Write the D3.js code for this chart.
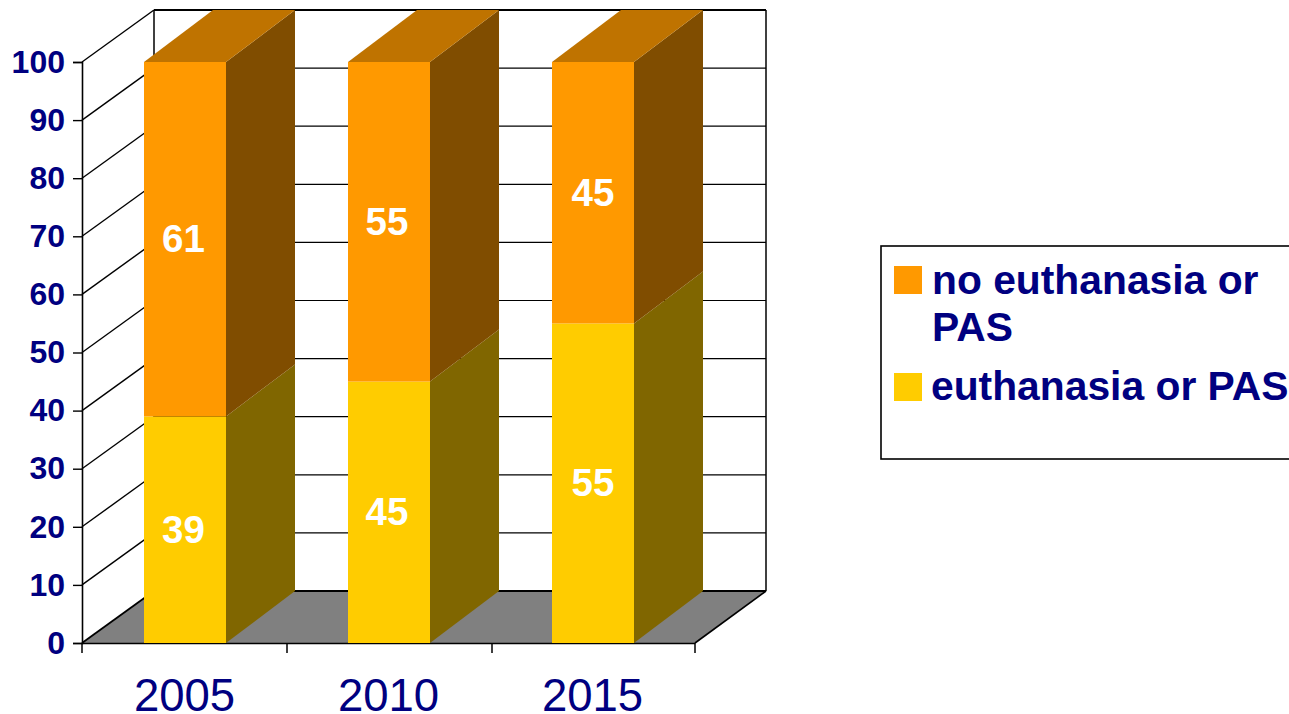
<!DOCTYPE html>
<html><head><meta charset="utf-8">
<script src="https://cdnjs.cloudflare.com/ajax/libs/d3/7.8.5/d3.min.js"></script>
<style>html,body{margin:0;padding:0;background:#fff;overflow:hidden}svg{display:block}text{font-family:"Liberation Sans",Arial,sans-serif}</style>
</head><body><script>
const years = ["2005","2010","2015"];
const euthanasia = [39,45,55];
const noEuthanasia = [61,55,45];
const yTicks = [0,10,20,30,40,50,60,70,80,90,100];
const legendLines = [["no euthanasia or","PAS"],["euthanasia or PAS"]];
const navy="#000080";
const W=1289,H=714;
const dx=72,dy=-52,bdx=69,bdy=-52;
const svg=d3.select("body").append("svg").attr("width",W).attr("height",H);
const y=d3.scaleLinear().domain([0,100]).range([643,62]);
const x=d3.scaleBand().domain(years).range([82.5,694.5]);
const tickX=d3.scaleBand().domain(years).range([82,697]);
const x0=82,x1=695;
const pts=a=>a.map(p=>p.join(",")).join(" ");
// floor
svg.append("polygon").attr("points",pts([[x0,y(0)],[x1,y(0)],[x1+dx-1,y(0)+dy],[x0+dx,y(0)+dy]])).attr("fill","#808080");
// grid
const grid=svg.append("g").attr("stroke","#000").attr("fill","none");
yTicks.forEach(t=>{
  if(t>0){
    grid.append("line").attr("x1",x0).attr("y1",y(t)).attr("x2",x0+dx).attr("y2",y(t)+dy).attr("stroke-width",1.4);
    grid.append("line").attr("x1",x0+dx).attr("y1",y(t)+dy).attr("x2",x1+dx-1).attr("y2",y(t)+dy).attr("stroke-width",t==100?1.8:1.2);
  }
});
grid.append("line").attr("x1",x0+dx).attr("y1",y(100)+dy).attr("x2",x0+dx).attr("y2",y(0)+dy).attr("stroke-width",1.5);
grid.append("line").attr("x1",x1+dx-1).attr("y1",y(100)+dy).attr("x2",x1+dx-1).attr("y2",y(0)+dy).attr("stroke-width",1.5);
grid.append("line").attr("x1",x0+dx).attr("y1",y(0)+dy).attr("x2",x1+dx-1).attr("y2",y(0)+dy).attr("stroke-width",2);
grid.append("line").attr("x1",x0).attr("y1",y(0)).attr("x2",x0+dx).attr("y2",y(0)+dy).attr("stroke-width",1.8);
grid.append("line").attr("x1",x1).attr("y1",y(0)).attr("x2",x1+dx-1).attr("y2",y(0)+dy).attr("stroke-width",1.6);
// axes
const yAxis=svg.append("g").attr("transform",`translate(${x0},0)`).call(d3.axisLeft(y).tickValues(yTicks).tickSize(9).tickPadding(8).tickFormat(d3.format("d")));
yAxis.selectAll("text").attr("font-size",32).attr("font-weight","bold").attr("fill",navy).style("font-family",'"Liberation Sans",Arial,sans-serif');
const xAxis=svg.append("g").attr("transform",`translate(0,${y(0)})`).call(d3.axisBottom(x).tickSizeOuter(0).tickSize(0).tickPadding(36));
xAxis.selectAll("text").attr("font-size",45.5).attr("fill",navy).style("font-family",'"Liberation Sans",Arial,sans-serif');
xAxis.select(".domain").attr("d",`M${x0},0.5H${x1}`);
[x0,tickX("2010"),tickX("2015"),x1].forEach(v=>xAxis.append("line").attr("x1",v).attr("x2",v).attr("y1",0).attr("y2",10).attr("stroke","#000").attr("stroke-width",1.5));
svg.selectAll(".domain").attr("stroke","#000").attr("stroke-width",1.6);
svg.selectAll(".tick line").attr("stroke","#000").attr("stroke-width",1.4);
// bars
const barW=82;
const labelNudge=[-1.5,-2,0];
const series=[{v:euthanasia,base:euthanasia.map(()=>0),front:"#FFCC00",side:"#806600",top:"#BF9900"},
              {v:noEuthanasia,base:euthanasia,front:"#FF9900",side:"#804D00",top:"#BF7300"}];
const bars=svg.append("g");
series.forEach((s,si)=>{
  years.forEach((yr,i)=>{
    const l=x(yr)+(x.bandwidth()-barW)/2+.5,r=l+barW,yb=y(s.base[i]),yt=y(s.base[i]+s.v[i]);
    bars.append("polygon").attr("points",pts([[r,yb],[r+bdx,yb+bdy],[r+bdx,yt+bdy],[r,yt]])).attr("fill",s.side);
    bars.append("rect").attr("x",l).attr("y",yt).attr("width",barW).attr("height",yb-yt).attr("fill",s.front);
    if(si==1) bars.append("polygon").attr("points",pts([[l,yt],[r,yt],[r+bdx,yt+bdy],[l+bdx,yt+bdy]])).attr("fill",s.top);
    bars.append("text").attr("x",(l+r)/2+labelNudge[i]).attr("y",(yb+yt)/2+13).attr("text-anchor","middle").attr("font-size",38.5).attr("font-weight","bold").attr("fill","#fff").text(s.v[i]);
  });
});
// legend
const lg=svg.append("g");
lg.append("rect").attr("x",881).attr("y",246).attr("width",W).attr("height",213).attr("fill","#fff").attr("stroke","#000").attr("stroke-width",1.6);
lg.append("rect").attr("x",894).attr("y",266).attr("width",28).attr("height",28).attr("fill","#FF9900");
lg.append("rect").attr("x",894).attr("y",373).attr("width",28).attr("height",28).attr("fill","#FFCC00");
const lt=(t,xx,yy)=>lg.append("text").attr("x",xx).attr("y",yy).attr("font-size",40.8).attr("font-weight","bold").attr("fill",navy).text(t);
lt(legendLines[0][0],932,294);lt(legendLines[0][1],932,341);lt(legendLines[1][0],931,400);
</script></body></html>
